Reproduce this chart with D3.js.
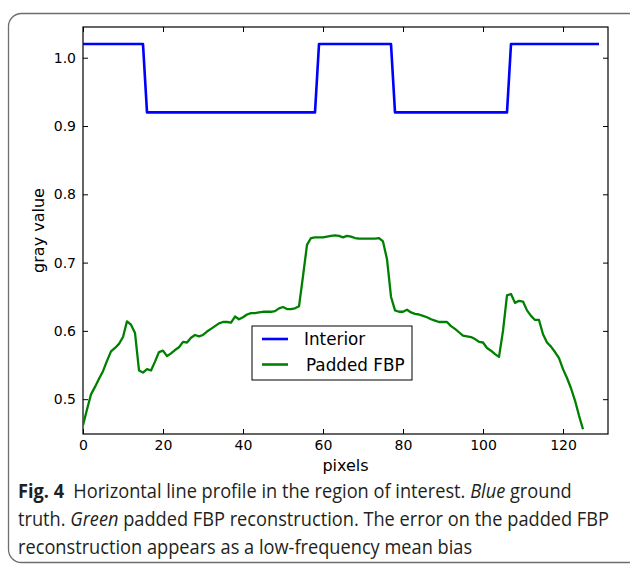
<!DOCTYPE html>
<html>
<head>
<meta charset="utf-8">
<script src="https://cdn.jsdelivr.net/npm/d3@7"></script>
<style>
  html, body { margin: 0; padding: 0; background: #fff; }
  svg { display: block; }
</style>
</head>
<body>
<svg id="chart" width="630" height="567"></svg>
<script>
// ---- data ----
const interiorX = [0, 15, 16, 58, 59, 77, 78, 106, 107, 129];
const interiorY = [1.02, 1.02, 0.92, 0.92, 1.02, 1.02, 0.92, 0.92, 1.02, 1.02];

const paddedFBP = [
  0.462, 0.485, 0.507, 0.518, 0.530, 0.541, 0.556, 0.570, 0.575, 0.581,
  0.591, 0.614, 0.609, 0.597, 0.542, 0.539, 0.544, 0.542, 0.555, 0.569,
  0.571, 0.563, 0.567, 0.572, 0.576, 0.584, 0.583, 0.590, 0.594, 0.592,
  0.594, 0.599, 0.603, 0.607, 0.611, 0.613, 0.613, 0.612, 0.621, 0.617,
  0.620, 0.624, 0.626, 0.626, 0.627, 0.628, 0.628, 0.628, 0.629, 0.633,
  0.635, 0.632, 0.632, 0.633, 0.636, 0.680, 0.726, 0.736, 0.737, 0.737,
  0.737, 0.738, 0.739, 0.740, 0.739, 0.737, 0.739, 0.738, 0.736, 0.735,
  0.735, 0.735, 0.735, 0.735, 0.736, 0.731, 0.705, 0.650, 0.630, 0.628,
  0.628, 0.631, 0.627, 0.625, 0.624, 0.622, 0.620, 0.617, 0.615, 0.613,
  0.613, 0.613, 0.607, 0.603, 0.598, 0.593, 0.592, 0.591, 0.588, 0.584,
  0.583, 0.575, 0.571, 0.566, 0.562, 0.600, 0.652, 0.654, 0.641, 0.644,
  0.643, 0.630, 0.622, 0.616, 0.616, 0.595, 0.583, 0.577, 0.569, 0.560,
  0.544, 0.531, 0.516, 0.498, 0.476, 0.456
];

const xTicks = [0, 20, 40, 60, 80, 100, 120];
const yTicks = [0.5, 0.6, 0.7, 0.8, 0.9, 1.0];
const seriesNames = ["Interior", "Padded FBP"];
const seriesColors = ["#0000ff", "#008000"];
const xLabel = "pixels";
const yLabel = "gray value";
const captionLines = [
  [{t: "Fig. 4", b: true}, {t: "\u2002Horizontal line profile in the region of interest. "}, {t: "Blue", i: true}, {t: " ground"}],
  [{t: "truth. "}, {t: "Green", i: true}, {t: " padded FBP reconstruction. The error on the padded FBP"}],
  [{t: "reconstruction appears as a low-frequency mean bias"}]
];

// ---- drawing ----
const svg = d3.select("#chart");
const L = 83, R = 608, T = 27, B = 434;

// outer card
svg.append("rect")
  .attr("x", 8.5).attr("y", 13.5)
  .attr("width", 640).attr("height", 549)
  .attr("rx", 13).attr("ry", 13)
  .attr("fill", "none").attr("stroke", "#6d6e71").attr("stroke-width", 1.3);

const x = d3.scaleLinear().domain([0, 131.25]).range([L, R]);
const y = d3.scaleLinear().domain([0.449, 1.045]).range([B, T]);

const font = "DejaVu Sans, sans-serif";

// axes (inward ticks on all four sides)
const axB = svg.append("g").attr("transform", `translate(0,${B})`)
  .call(d3.axisBottom(x).tickValues(xTicks).tickSize(-5).tickPadding(6).tickFormat(d3.format("d")));
const axT = svg.append("g").attr("transform", `translate(0,${T})`)
  .call(d3.axisTop(x).tickValues(xTicks).tickSize(-5).tickFormat(""));
const axL = svg.append("g").attr("transform", `translate(${L},0)`)
  .call(d3.axisLeft(y).tickValues(yTicks).tickSize(-5).tickPadding(7).tickFormat(d3.format(".1f")));
const axR = svg.append("g").attr("transform", `translate(${R},0)`)
  .call(d3.axisRight(y).tickValues(yTicks).tickSize(-5).tickFormat(""));

[axB, axT, axL, axR].forEach(g => {
  g.select(".domain").remove();
  g.selectAll(".tick line").attr("stroke", "#000").attr("stroke-width", 1);
  g.selectAll(".tick text").attr("font-family", font).attr("font-size", 14).attr("fill", "#000");
});

// frame
svg.append("rect").attr("x", L).attr("y", T).attr("width", R - L).attr("height", B - T)
  .attr("fill", "none").attr("stroke", "#000").attr("stroke-width", 1.2);

// series
const lineGen = d3.line().x(d => x(d[0])).y(d => y(d[1]));
svg.append("clipPath").attr("id", "clip").append("rect")
  .attr("x", L).attr("y", T).attr("width", R - L).attr("height", B - T);

svg.append("path")
  .datum(interiorX.map((v, i) => [v, interiorY[i]]))
  .attr("d", lineGen).attr("fill", "none")
  .attr("stroke", seriesColors[0]).attr("stroke-width", 2.6)
  .attr("stroke-linejoin", "round").attr("clip-path", "url(#clip)");

svg.append("path")
  .datum(paddedFBP.map((v, i) => [i, v]))
  .attr("d", lineGen).attr("fill", "none")
  .attr("stroke", seriesColors[1]).attr("stroke-width", 2.3)
  .attr("stroke-linejoin", "round").attr("clip-path", "url(#clip)");

// axis labels
svg.append("text").attr("x", (L + R) / 2).attr("y", 471)
  .attr("text-anchor", "middle").attr("font-family", font).attr("font-size", 16)
  .text(xLabel);
svg.append("text").attr("transform", `translate(44,${(T + B) / 2}) rotate(-90)`)
  .attr("text-anchor", "middle").attr("font-family", font).attr("font-size", 16)
  .text(yLabel);

// legend
const lg = svg.append("g");
lg.append("rect").attr("x", 252).attr("y", 326).attr("width", 160).attr("height", 54)
  .attr("fill", "#fff").attr("stroke", "#000").attr("stroke-width", 1);
seriesNames.forEach((name, i) => {
  const yy = 339 + i * 25.5;
  lg.append("line").attr("x1", 262).attr("x2", 288).attr("y1", yy).attr("y2", yy)
    .attr("stroke", seriesColors[i]).attr("stroke-width", 2.6);
  lg.append("text").attr("x", i === 0 ? 304 : 306).attr("y", yy + 6)
    .attr("font-family", font).attr("font-size", 16.8).text(name);
});

// caption
const cap = svg.append("g").attr("transform", "translate(18,0) scale(0.92,1)");
captionLines.forEach((parts, li) => {
  const t = cap.append("text").attr("x", 0).attr("y", 498 + li * 28)
    .attr("font-family", "Open Sans, Noto Sans, sans-serif").attr("font-size", 19.8)
    .attr("fill", "#231f20");
  parts.forEach(p => {
    t.append("tspan").text(p.t)
      .attr("font-weight", p.b ? "bold" : null)
      .attr("font-style", p.i ? "italic" : null);
  });
});
</script>
</body>
</html>
